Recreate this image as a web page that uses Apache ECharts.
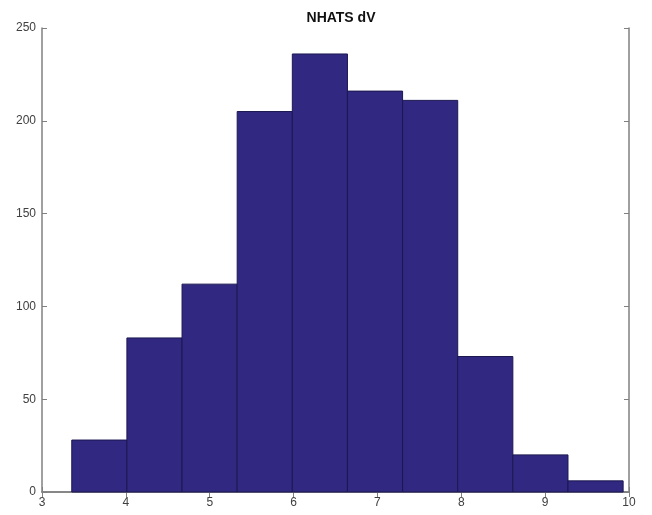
<!DOCTYPE html>
<html>
<head>
<meta charset="utf-8">
<script src="https://cdn.jsdelivr.net/npm/echarts@6/dist/echarts.min.js"></script>
<style>
  html, body { margin: 0; padding: 0; background: #fff; }
  #chart { width: 652px; height: 515px; }
</style>
</head>
<body>
<div id="chart"></div>
<script>
// histogram bins (edges) and counts
const binEdges = [3.355, 4.0125, 4.67, 5.3275, 5.985, 6.6425, 7.30, 7.9575, 8.615, 9.2725, 9.93];
const counts = [28, 83, 112, 205, 236, 216, 211, 73, 20, 6];
const xTicks = [3, 4, 5, 6, 7, 8, 9, 10];
const yTicks = [0, 50, 100, 150, 200, 250];

const bins = counts.map((c, i) => [binEdges[i], binEdges[i + 1], c]);

const chart = echarts.init(document.getElementById('chart'));
const axisColor = '#808080';
const labelStyle = { color: '#404040', fontSize: 12, fontFamily: 'Liberation Sans, Arial, sans-serif' };

chart.setOption({
  animation: false,
  title: {
    text: 'NHATS dV',
    left: 336, top: 6, textAlign: 'center',
    textStyle: { fontSize: 14, fontWeight: 'bold', color: '#111', fontFamily: 'Liberation Sans, Arial, sans-serif' }
  },
  grid: { left: 42, right: 23, top: 28, bottom: 23 },
  xAxis: [
    {
      type: 'value', min: xTicks[0], max: xTicks[xTicks.length - 1], interval: 1,
      axisLine: { lineStyle: { color: axisColor, width: 1.5 } },
      axisTick: { inside: true, length: 5, lineStyle: { color: axisColor } },
      axisLabel: { ...labelStyle, margin: 5 },
      splitLine: { show: false }
    },
    {
      type: 'value', position: 'top', min: xTicks[0], max: xTicks[xTicks.length - 1], interval: 1,
      axisLine: { show: true, lineStyle: { color: axisColor, width: 1.5 } },
      axisTick: { inside: true, length: 5, lineStyle: { color: axisColor } },
      axisLabel: { show: false }, splitLine: { show: false }
    }
  ],
  yAxis: [
    {
      type: 'value', min: yTicks[0], max: yTicks[yTicks.length - 1], interval: 50,
      axisLine: { show: true, lineStyle: { color: axisColor, width: 1.5 } },
      axisTick: { show: true, inside: true, length: 5, lineStyle: { color: axisColor } },
      axisLabel: { ...labelStyle, margin: 6 },
      splitLine: { show: false }
    },
    {
      type: 'value', position: 'right', min: yTicks[0], max: yTicks[yTicks.length - 1], interval: 50,
      axisLine: { show: true, lineStyle: { color: axisColor, width: 1.5 } },
      axisTick: { show: true, inside: true, length: 5, lineStyle: { color: axisColor } },
      axisLabel: { show: false }, splitLine: { show: false }
    }
  ],
  series: [{
    type: 'custom',
    xAxisIndex: 0, yAxisIndex: 0,
    data: bins,
    encode: { x: [0, 1], y: 2 },
    renderItem: (params, api) => {
      const p0 = api.coord([api.value(0), api.value(2)]);
      const p1 = api.coord([api.value(1), 0]);
      return {
        type: 'rect',
        shape: { x: p0[0], y: p0[1], width: p1[0] - p0[0], height: p1[1] - p0[1] },
        style: { fill: '#312882', stroke: '#1c1850', lineWidth: 1 }
      };
    }
  }]
});
</script>
</body>
</html>
